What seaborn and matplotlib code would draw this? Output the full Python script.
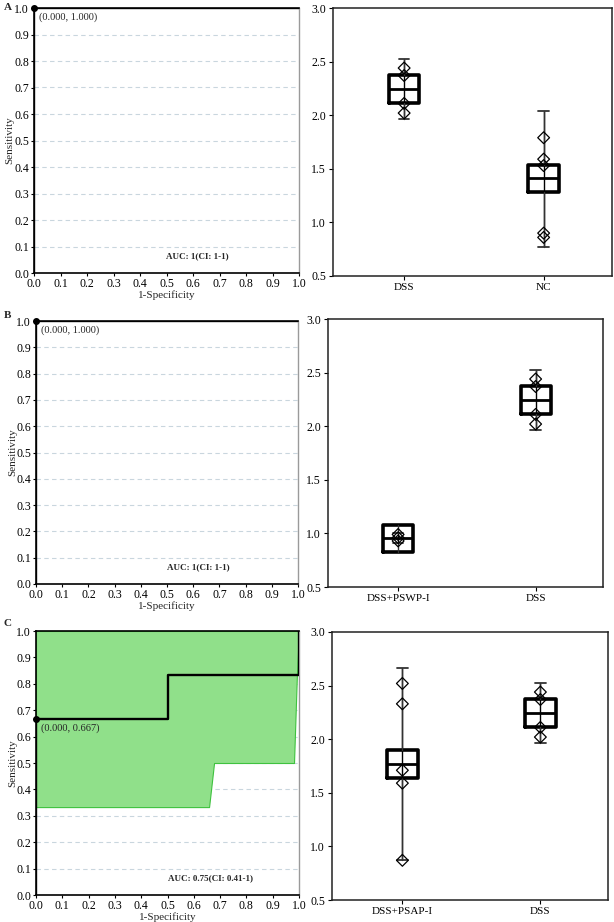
import numpy as np
import pandas as pd
import matplotlib
matplotlib.use("Agg")
import matplotlib.pyplot as plt
import seaborn as sns

# ---------------- data ----------------
panel_letters = ["A", "B", "C"]

# ROC curves
roc_a_fpr = [0.0, 0.0, 1.0]
roc_a_tpr = [0.0, 1.0, 1.0]
roc_b_fpr = [0.0, 0.0, 1.0]
roc_b_tpr = [0.0, 1.0, 1.0]
roc_c_fpr = [0.0, 0.0, 0.5, 0.5, 1.0, 1.0]
roc_c_tpr = [0.0, 0.667, 0.667, 0.833, 0.833, 1.0]

# CI band for panel C
band_c_x = [0.0, 0.658, 0.677, 0.981, 0.992, 1.0]
band_c_lo = [0.333, 0.333, 0.5, 0.5, 0.833, 1.0]
band_c_hi = [1.0, 1.0, 1.0, 1.0, 1.0, 1.0]

point_labels = ["(0.000, 1.000)", "(0.000, 1.000)", "(0.000, 0.667)"]
point_xy = [(0.0, 1.0), (0.0, 1.0), (0.0, 0.667)]
auc_labels = ["AUC: 1(CI: 1-1)", "AUC: 1(CI: 1-1)", "AUC: 0.75(CI: 0.41-1)"]

# box plot groups
groups_a = ["DSS", "NC"]
groups_b = ["DSS+PSWP-I", "DSS"]
groups_c = ["DSS+PSAP-I", "DSS"]

dss_points = [2.44, 2.37, 2.11, 2.02]
nc_points = [1.79, 1.59, 1.53, 0.90, 0.86]
pswp_points = [0.99, 0.96, 0.93]
psap_points = [2.52, 2.33, 1.71, 1.59, 0.87]

# box stats: q1, median, q3, whisker low, whisker high
dss_stats = [2.11, 2.245, 2.375, 1.965, 2.525]
nc_stats = [1.28, 1.41, 1.54, 0.775, 2.04]
pswp_stats = [0.83, 0.955, 1.08, 0.91, 1.00]
psap_stats = [1.64, 1.77, 1.90, 0.875, 2.66]

# ---------------- style ----------------
sns.set_theme(style="white")
plt.rcParams["font.family"] = ["Liberation Serif", "DejaVu Serif"]
plt.rcParams["axes.linewidth"] = 1.0

fig = plt.figure(figsize=(6.14, 9.22), dpi=100)

W, H = 614.0, 922.0
def ax_at(l, r, t, b):
    return fig.add_axes([l / W, 1 - b / H, (r - l) / W, (b - t) / H])

left_boxes = [(34, 299, 8, 273), (36, 298, 321, 584), (36, 299, 631, 895)]
right_boxes = [(333, 612, 8, 276), (328, 603, 319, 587), (332, 608, 632, 900)]
letter_pos = [(4, 7), (4, 316), (4, 624)]

rocs = [(roc_a_fpr, roc_a_tpr), (roc_b_fpr, roc_b_tpr), (roc_c_fpr, roc_c_tpr)]
box_sets = [
    (groups_a, [dss_points, nc_points], [dss_stats, nc_stats]),
    (groups_b, [pswp_points, dss_points], [pswp_stats, dss_stats]),
    (groups_c, [psap_points, dss_points], [psap_stats, dss_stats]),
]

for i in range(3):
    # ---------- ROC ----------
    ax = ax_at(*left_boxes[i])
    ax.set_xlim(0, 1)
    ax.set_ylim(0, 1)
    for yv in np.arange(0.1, 1.0, 0.1):
        ax.axhline(yv, color="#c9d6de", lw=0.8, ls=(0, (4, 3)), zorder=0)
    if i == 2:
        ax.fill_between(band_c_x, band_c_lo, band_c_hi, color="#90e08a",
                        edgecolor="#3fc23f", lw=0.8, zorder=1)
    fpr, tpr = rocs[i]
    df = pd.DataFrame({"fpr": fpr, "tpr": tpr})
    sns.lineplot(data=df, x="fpr", y="tpr", sort=False, estimator=None,
                 color="black", lw=1.7, ax=ax, zorder=3)
    px, py = point_xy[i]
    ax.plot([px], [py], "o", color="black", ms=4, zorder=4, clip_on=False)
    ax.text(px + 0.02, py - 0.035, point_labels[i], fontsize=7.5, va="center",
            ha="left", zorder=5)
    ax.text(0.5, 0.065, auc_labels[i], fontsize=6.5, fontweight="bold",
            va="center", ha="left")
    ax.set_xticks(np.round(np.arange(0, 1.01, 0.1), 1))
    ax.set_yticks(np.round(np.arange(0, 1.01, 0.1), 1))
    ax.xaxis.set_major_formatter(matplotlib.ticker.FormatStrFormatter("%.1f"))
    ax.yaxis.set_major_formatter(matplotlib.ticker.FormatStrFormatter("%.1f"))
    ax.tick_params(axis="both", labelsize=8.5, length=2.5, width=0.8,
                   direction="out", pad=1, colors="black",
                   bottom=True, left=True)
    ax.set_xlabel("1-Specificity", fontsize=8)
    ax.set_ylabel("Sensitivity", fontsize=8)
    ax.yaxis.set_label_coords(-0.09, 0.5)
    ax.xaxis.set_label_coords(0.5, -0.085)
    ax.xaxis.label.set_va("center")
    ax.yaxis.label.set_va("center")
    for s in ["left", "bottom", "top"]:
        ax.spines[s].set_color("black")
        ax.spines[s].set_linewidth(1.2)
    ax.spines["right"].set_color("#9a9a9a")
    ax.spines["right"].set_linewidth(1.0)
    fig.text(letter_pos[i][0] / W, 1 - letter_pos[i][1] / H, panel_letters[i],
             fontsize=8, fontweight="bold", va="center", ha="left")

    # ---------- box plot ----------
    axb = ax_at(*right_boxes[i])
    groups, pts, stats = box_sets[i]
    rows = []
    for g, p in zip(groups, pts):
        for v in p:
            rows.append({"group": g, "value": v})
    dfp = pd.DataFrame(rows)
    bxp_stats = []
    for g, st in zip(groups, stats):
        bxp_stats.append({"label": g, "q1": st[0], "med": st[1], "q3": st[2],
                          "whislo": st[3], "whishi": st[4], "fliers": []})
    for k, st in enumerate(stats):
        axb.vlines(k, st[3], st[4], color="#333333", lw=1.0, zorder=1)
    axb.bxp(bxp_stats, positions=range(len(groups)), widths=0.22,
            showfliers=False, patch_artist=False,
            boxprops=dict(color="black", lw=2.6),
            medianprops=dict(color="black", lw=2.0),
            whiskerprops=dict(color="#333333", lw=1.0),
            capprops=dict(color="#333333", lw=1.3),
            capwidths=0.075, manage_ticks=False)
    sns.stripplot(data=dfp, x="group", y="value", order=groups, jitter=False,
                  marker="D", s=6, facecolors="none", edgecolor="black",
                  linewidth=0.9, ax=axb, zorder=5)
    for c in axb.collections:
        try:
            c.set_facecolor("none")
            c.set_edgecolor("black")
        except Exception:
            pass
    axb.set_xlim(-0.51, 1.49)
    axb.set_ylim(0.5, 3.0)
    axb.set_yticks([0.5, 1.0, 1.5, 2.0, 2.5, 3.0])
    axb.yaxis.set_major_formatter(matplotlib.ticker.FormatStrFormatter("%.1f"))
    axb.set_xticks([0, 1])
    axb.set_xticklabels(groups)
    axb.set_xlabel("")
    axb.set_ylabel("")
    axb.tick_params(axis="y", labelsize=8.5)
    axb.tick_params(axis="x", labelsize=8)
    axb.tick_params(axis="both", length=3, width=0.8,
                    direction="out", pad=2, colors="black",
                    bottom=True, left=True)
    for s in axb.spines.values():
        s.set_color("#222222")
        s.set_linewidth(1.1)

fig.savefig("out.png", dpi=100)
